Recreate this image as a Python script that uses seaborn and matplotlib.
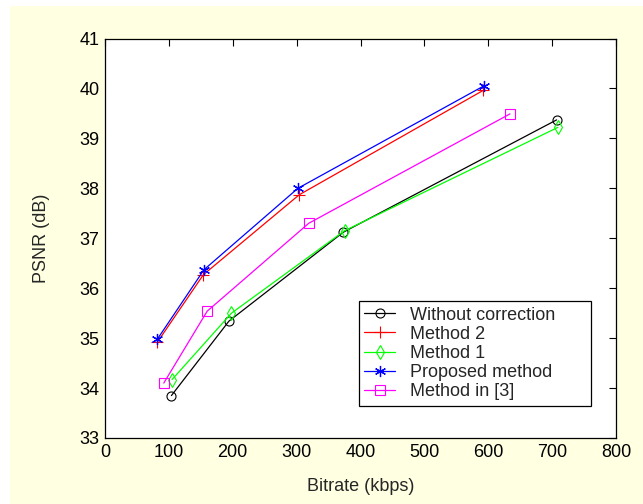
import matplotlib
matplotlib.use("Agg")
import matplotlib.pyplot as plt
import seaborn as sns
import pandas as pd
from matplotlib.patches import Rectangle

# ---- data ----
labels = ["Without correction", "Method 2", "Method 1", "Proposed method", "Method in [3]"]
x_without = [104, 194, 373, 707]
y_without = [33.85, 35.34, 37.12, 39.37]
x_m2 = [82, 154, 304, 592]
y_m2 = [34.92, 36.27, 37.87, 39.96]
x_m1 = [105, 198, 375, 709]
y_m1 = [34.17, 35.50, 37.15, 39.22]
x_prop = [82, 155, 302, 593]
y_prop = [34.98, 36.37, 38.00, 40.05]
x_m3 = [92, 160, 319, 634]
y_m3 = [34.10, 35.54, 37.30, 39.49]
xticks = [0, 100, 200, 300, 400, 500, 600, 700, 800]
yticks = [33, 34, 35, 36, 37, 38, 39, 40, 41]

series = [
    (labels[0], x_without, y_without, "black", "o", 6.5, 0.8),
    (labels[1], x_m2, y_m2, "#FF0000", "+", 8, 0.8),
    (labels[2], x_m1, y_m1, "#00FF00", "d", 7, 0.8),
    (labels[3], x_prop, y_prop, "#0000FF", (6, 2, 0), 8, 0.9),
    (labels[4], x_m3, y_m3, "#FF00FF", "s", 7.5, 0.8),
]

sns.set_style("white")
plt.rcParams["font.family"] = ["Liberation Sans", "DejaVu Sans"]
FS = 13

fig = plt.figure(figsize=(6.43, 5.04), dpi=100, facecolor="white")
bg = Rectangle((10 / 643, 0), 1 - 10 / 643, 1 - 6 / 504,
               transform=fig.transFigure, facecolor="#FFFFE1",
               edgecolor="none", zorder=-10)
fig.patches.append(bg)
ax = fig.add_axes([105 / 643, 1 - 438 / 504, (616 - 105) / 643, (438 - 38.5) / 504])
ax.set_zorder(5)
ax.set_facecolor("white")

for name, xs, ys, col, mk, ms, mew in series:
    df = pd.DataFrame({"x": xs, "y": ys})
    sns.lineplot(data=df, x="x", y="y", ax=ax, color=col, marker=mk, markersize=ms,
                 mfc="none", mec=col, mew=mew, linewidth=0.9, label=name,
                 sort=False, estimator=None)

ax.set_xlim(0, 800)
ax.set_ylim(33, 41)
ax.set_xticks(xticks)
ax.set_yticks(yticks)
ax.tick_params(direction="in", length=5, width=0.8, top=True, right=True,
               labelsize=FS, colors="black", pad=4)
for s in ax.spines.values():
    s.set_visible(True)
    s.set_color("black")
    s.set_linewidth(0.9)

ax.set_xlabel("Bitrate (kbps)", fontsize=FS)
ax.set_ylabel("PSNR (dB)", fontsize=FS)
ax.xaxis.set_label_coords(0.5, (438 - 487) / 400)
ax.xaxis.label.set_va("center")
ax.yaxis.set_label_coords((41 - 105) / 511, 0.5)
ax.yaxis.label.set_va("center")

leg = ax.legend(loc="upper left",
                bbox_to_anchor=((359 - 105) / 511, (438 - 407) / 400,
                                (591 - 359) / 511, (407 - 301) / 400),
                mode="expand",
                borderaxespad=0, fontsize=FS, frameon=True, fancybox=False,
                edgecolor="black", framealpha=1, handlelength=1.7, handletextpad=0.8,
                labelspacing=0.12, borderpad=0.3)
leg.get_frame().set_linewidth(0.9)

fig.savefig("out.png", dpi=100, facecolor=fig.get_facecolor())
